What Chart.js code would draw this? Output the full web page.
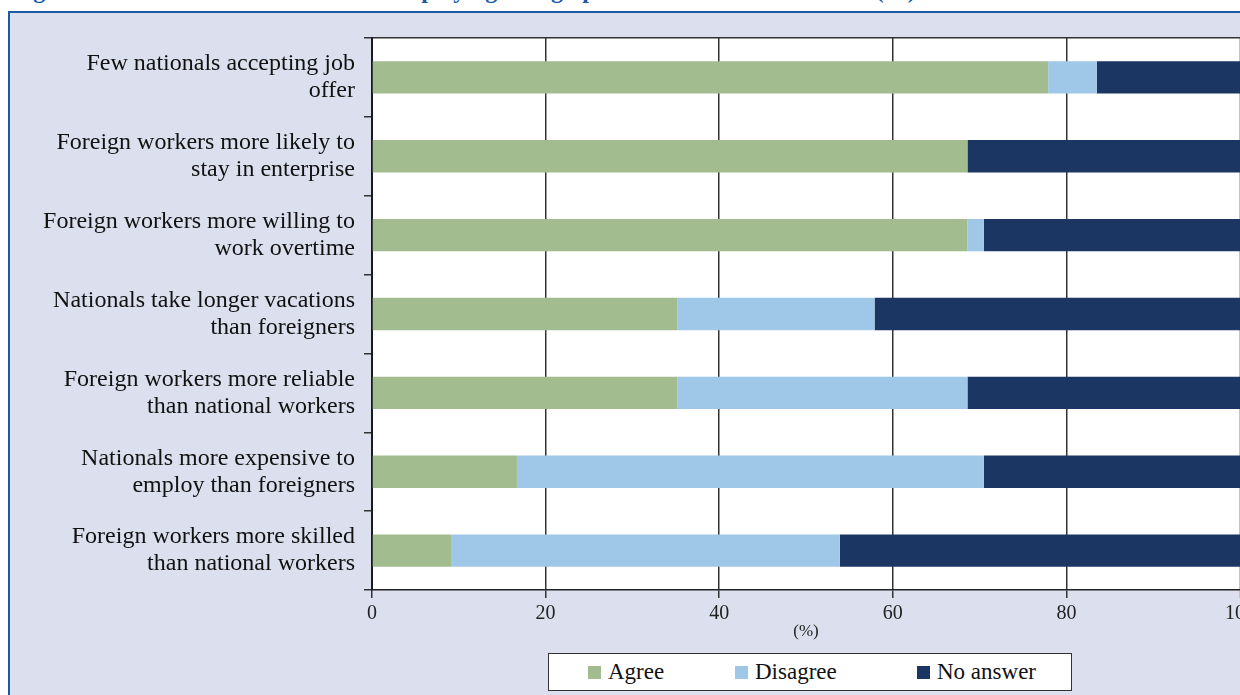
<!DOCTYPE html>
<html>
<head>
<meta charset="utf-8">
<script src="https://cdn.jsdelivr.net/npm/chart.js@4/dist/chart.umd.min.js"></script>
<style>
    html, body { margin: 0; padding: 0; background: #fff; overflow: hidden; width: 1240px; height: 695px; }
    #title {
        position: absolute; left: 12px; top: -22px; white-space: nowrap;
        font: bold 24px "Liberation Serif", serif; line-height: 24px; color: #1a5aa6;
    }
    #panel {
        position: absolute; left: 8px; top: 11px; width: 1240px; height: 700px;
        background: #dcdfee; border-top: 2px solid #1a5aa6; border-left: 2px solid #1a5aa6;
    }
    #chartBox { position: absolute; left: 0; top: 0; }
    #legend {
        position: absolute; left: 548px; top: 653px; width: 524px; height: 38px;
        background: #fff; border: 1px solid #333; box-sizing: border-box;
        font: 23px "Liberation Serif", serif; color: #111;
    }
    #legend .item { position: absolute; top: 5px; display: flex; align-items: center; }
    #legend .swatch { width: 13px; height: 13px; margin-right: 7px; }
</style>
</head>
<body>
<div id="title">Figure 5.3. Attitudes and reasons for employing foreign personnel in the hotel sector (%)</div>
<div id="panel"></div>
<div id="chartBox"><canvas id="barChart" width="1260" height="645"></canvas></div>
<div id="legend"></div>

<script>
// Survey statements, top to bottom
const statements = [
    ['Few nationals accepting job', 'offer'],
    ['Foreign workers more likely to', 'stay in enterprise'],
    ['Foreign workers more willing to', 'work overtime'],
    ['Nationals take longer vacations', 'than foreigners'],
    ['Foreign workers more reliable', 'than national workers'],
    ['Nationals more expensive to', 'employ than foreigners'],
    ['Foreign workers more skilled', 'than national workers']
];

// Shares of respondents (%)
const agree = [77.9, 68.6, 68.6, 35.2, 35.2, 16.7, 9.1];
const disagree = [5.6, 0, 1.9, 22.7, 33.4, 53.8, 44.8];
const noAnswer = [16.5, 31.4, 29.5, 42.1, 31.4, 29.5, 46.1];

const seriesNames = ['Agree', 'Disagree', 'No answer'];
const seriesColors = ['#a2bb8f', '#9fc8e8', '#1c3664'];
const xTicks = [0, 20, 40, 60, 80, 100];

const serif = '"Liberation Serif", "Times New Roman", serif';

// White plot background behind the bars
const plotBackground = {
    id: 'plotBackground',
    beforeDraw(chart) {
        const { ctx, chartArea: a } = chart;
        ctx.save();
        ctx.fillStyle = '#fff';
        ctx.fillRect(a.left, a.top, a.right - a.left, a.bottom - a.top);
        ctx.restore();
    }
};

const ctx = document.getElementById('barChart').getContext('2d');
const chart = new Chart(ctx, {
    type: 'bar',
    data: {
        labels: statements,
        datasets: [agree, disagree, noAnswer].map((values, i) => ({
            label: seriesNames[i],
            data: values,
            backgroundColor: seriesColors[i],
            borderWidth: 0,
            barPercentage: 0.41,
            categoryPercentage: 1
        }))
    },
    options: {
        indexAxis: 'y',
        responsive: false,
        devicePixelRatio: 1,
        animation: false,
        layout: { padding: { top: 38, right: 20, left: 0, bottom: 0 } },
        plugins: {
            legend: { display: false },
            tooltip: { enabled: false }
        },
        scales: {
            x: {
                stacked: true,
                min: 0,
                max: 100,
                afterBuildTicks: scale => { scale.ticks = xTicks.map(v => ({ value: v })); },
                afterFit: scale => { scale.height = 55; },
                ticks: {
                    color: '#222',
                    padding: 4,
                    font: { family: serif, size: 20 }
                },
                grid: {
                    color: c => c.tick && c.tick.value === 100 ? '#c4c4c4' : '#333',
                    lineWidth: 1.5,
                    tickLength: 8
                },
                border: { display: true, color: '#222', width: 1.5 },
                title: {
                    display: true,
                    text: '(%)',
                    color: '#222',
                    padding: { top: 0, bottom: 3 },
                    font: { family: serif, size: 17 }
                }
            },
            y: {
                stacked: true,
                afterFit: scale => { scale.width = 372; },
                ticks: {
                    color: '#111',
                    padding: 9,
                    font: { family: serif, size: 24, lineHeight: 1.125 }
                },
                grid: {
                    offset: true,
                    color: c => c.index === 0 ? '#333' : 'transparent',
                    tickColor: '#333',
                    lineWidth: 1.5,
                    tickLength: 8
                },
                border: { display: true, color: '#1a1a1a', width: 2 }
            }
        }
    },
    plugins: [plotBackground]
});

// Boxed legend under the axis
const legendBox = document.getElementById('legend');
const legendOffsets = [39, 186, 368];
seriesNames.forEach((name, i) => {
    const item = document.createElement('div');
    item.className = 'item';
    item.style.left = legendOffsets[i] + 'px';
    item.innerHTML = '<span class="swatch" style="background:' + seriesColors[i] + '"></span><span>' + name + '</span>';
    legendBox.appendChild(item);
});
</script>
</body>
</html>
